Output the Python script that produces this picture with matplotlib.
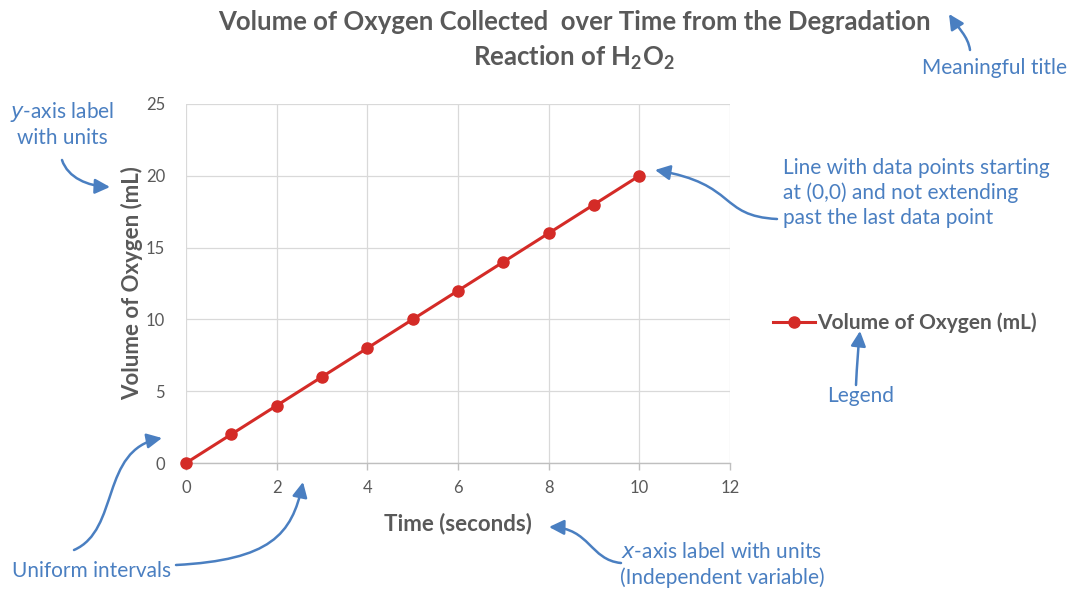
"""Volume de oxigênio ao longo do tempo, com anotações explicativas."""

import matplotlib

matplotlib.use("Agg")
import matplotlib.pyplot as plt
from matplotlib.patches import FancyArrowPatch
from matplotlib.path import Path

# dados
tempo_s = [0, 1, 2, 3, 4, 5, 6, 7, 8, 9, 10]
volume_ml = [0, 2, 4, 6, 8, 10, 12, 14, 16, 18, 20]
ticks_x = [0, 2, 4, 6, 8, 10, 12]
ticks_y = [0, 5, 10, 15, 20, 25]

LARGURA, ALTURA = 1071, 590
CINZA = "#595959"
AZUL = "#4a7fc1"
VERMELHO = "#d42b27"

plt.rcParams["font.family"] = ["Lato", "DejaVu Sans"]
plt.rcParams["mathtext.fontset"] = "custom"
plt.rcParams["mathtext.rm"] = "Lato"
plt.rcParams["mathtext.bf"] = "Lato:bold"


def px(x, y):
    """Pixel da imagem (origem no topo) -> fração da figura."""
    return x / LARGURA, 1 - y / ALTURA


fig = plt.figure(figsize=(LARGURA / 100, ALTURA / 100), dpi=100)
x0, y0 = px(186, 463)
x1, y1 = px(730, 104)
ax = fig.add_axes([x0, y0, x1 - x0, y1 - y0])

ax.plot(tempo_s, volume_ml, color=VERMELHO, lw=2.2, marker="o", ms=8,
        label="Volume of Oxygen (mL)", zorder=3, clip_on=False)

ax.set_xlim(0, 12)
ax.set_ylim(0, 25)
ax.set_xticks(ticks_x)
ax.set_yticks(ticks_y)
ax.grid(color="#d9d9d9", lw=0.9)
ax.set_axisbelow(True)
for lado in ["top", "right", "left"]:
    ax.spines[lado].set_visible(False)
ax.spines["bottom"].set_color("#bfbfbf")
ax.spines["bottom"].set_linewidth(1.0)
ax.tick_params(axis="x", colors="#bfbfbf", length=5, width=1.0, labelcolor=CINZA,
               labelsize=12, pad=7)
ax.tick_params(axis="y", length=0, labelcolor=CINZA, labelsize=12, pad=15)

ax.set_xlabel("Time (seconds)", fontsize=16, fontweight="bold", color=CINZA, labelpad=12)
ax.set_ylabel("Volume of Oxygen (mL)", fontsize=16, fontweight="bold", color=CINZA,
              labelpad=2)

ax.legend(loc="center left", bbox_to_anchor=px(773, 323), bbox_transform=fig.transFigure,
          frameon=False, handlelength=2.0, handletextpad=0.1, borderpad=0,
          borderaxespad=0, prop={"weight": "bold", "size": 15}, labelcolor=CINZA)

# título
fig.text(*px(574, 22), "Volume of Oxygen Collected  over Time from the Degradation",
         ha="center", va="center", fontsize=18.5, fontweight="bold", color=CINZA)
fig.text(*px(574, 58), r"Reaction of H$_\mathbf{2}$O$_\mathbf{2}$",
         ha="center", va="center", fontsize=18.5, fontweight="bold", color=CINZA)

# anotações em azul
estilo = dict(color=AZUL, fontsize=15)
fig.text(*px(995, 68), "Meaningful title", ha="center", va="center", **estilo)
fig.text(*px(62, 124), "$\\it{y}$-axis label\nwith units", ha="center", va="center",
         linespacing=1.3, **estilo)
fig.text(*px(783, 193),
         "Line with data points starting\nat (0,0) and not extending\npast the last data point",
         ha="left", va="center", linespacing=1.3, **estilo)
fig.text(*px(861, 396), "Legend", ha="center", va="center", **estilo)
fig.text(*px(12, 571), "Uniform intervals", ha="left", va="center", **estilo)
fig.text(*px(722, 565), "$\\it{x}$-axis label with units\n(Independent variable)",
         ha="center", va="center", linespacing=1.3, **estilo)

setas = [
    [(970, 50), (968, 36), (958, 28), (949, 14)],
    [(62, 160), (68, 178), (88, 186), (110, 187)],
    [(74, 550), (120, 530), (100, 450), (162, 438)],
    [(176, 565), (270, 560), (292, 535), (303, 482)],
    [(621, 563), (590, 560), (590, 528), (549, 527)],
    [(777, 219), (718, 216), (738, 184), (655, 170)],
    [(856, 385), (857, 365), (858, 350), (860, 331)],
]
for pontos in setas:
    caminho = Path([px(*p) for p in pontos],
                   [Path.MOVETO, Path.CURVE4, Path.CURVE4, Path.CURVE4])
    seta = FancyArrowPatch(path=caminho, transform=fig.transFigure,
                           arrowstyle="-|>,head_length=9,head_width=4.5",
                           color=AZUL, lw=1.8)
    fig.add_artist(seta)

fig.savefig("out.png", dpi=100)
plt.close(fig)
